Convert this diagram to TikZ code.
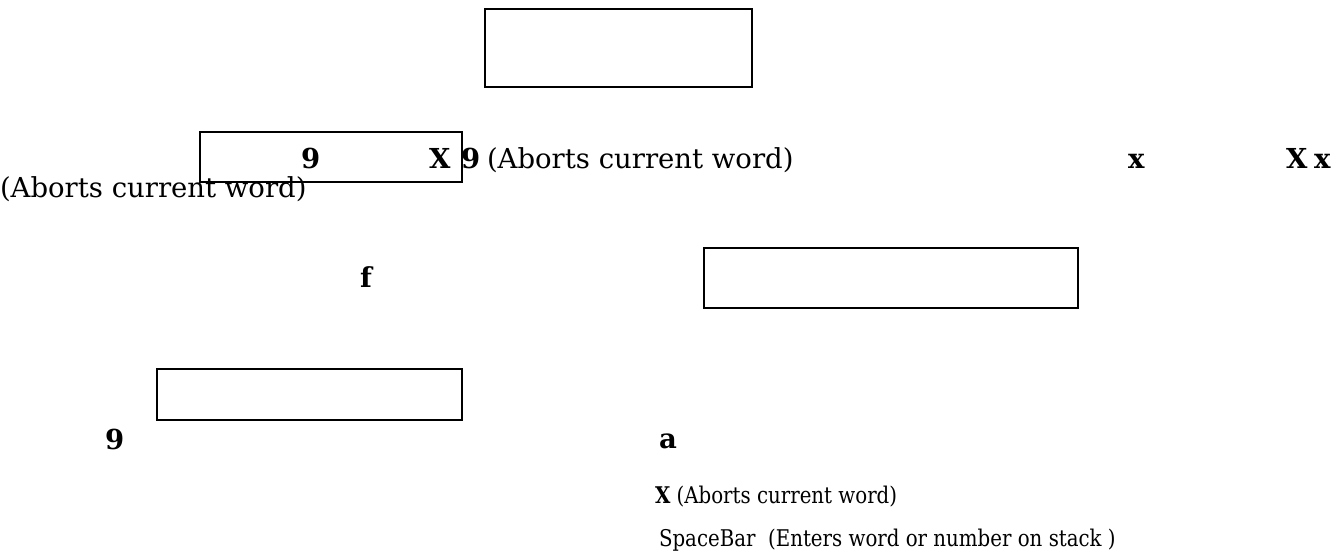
\documentclass[tikz,border=0pt]{standalone}
\usepackage{fontspec}
\setmainfont{DejaVu Serif}
\newfontfamily\condserif[FakeStretch=0.86]{DejaVu Serif}
\begin{document}
\begin{tikzpicture}[x=1pt,y=-1pt,
  box/.style={draw=black,line width=1.8pt},
  txt/.style={anchor=base west,inner sep=0pt,outer sep=0pt,font=\fontsize{27.5}{32}\selectfont},
  btxt/.style={txt,font=\fontsize{27.5}{32}\selectfont\bfseries},
  stxt/.style={anchor=base west,inner sep=0pt,outer sep=0pt,font=\condserif\fontsize{23}{27}\selectfont}]
\useasboundingbox (0,0) rectangle (1344,557);
\fill[white] (0,0) rectangle (1344,557);
% boxes
\draw[box] (485,9) rectangle (752,87) coordinate (boxA);
\draw[box] (200,132) rectangle (462,182) coordinate (boxB);
\draw[box] (704,248) rectangle (1078,308) coordinate (boxC);
\draw[box] (157,369) rectangle (462,420) coordinate (boxD);
% texts
\node[btxt] (n9a) at (301,168) {9};
\node[btxt] (nXa) at (429,168) {X};
\node[btxt] (n9b) at (461,168) {9};
\node[txt] (ab1) at (487,168) {(Aborts current word)};
\node[btxt] (nxa) at (1128,168) {x};
\node[btxt] (nXb) at (1286,168) {X};
\node[btxt] (nxb) at (1314,168) {x};
\node[txt] (ab2) at (0,197) {(Aborts current word)};
\node[btxt] (nf) at (360,287) {f};
\node[btxt] (n9c) at (105,449) {9};
\node[btxt] (na) at (659,448) {a};
\node[stxt] (ab3) at (655,503) {\bfseries X\mdseries{} (Aborts current word)};
\node[stxt] (sp) at (659,546) {SpaceBar\ \ (Enters word or number on stack )};
\end{tikzpicture}
\end{document}
